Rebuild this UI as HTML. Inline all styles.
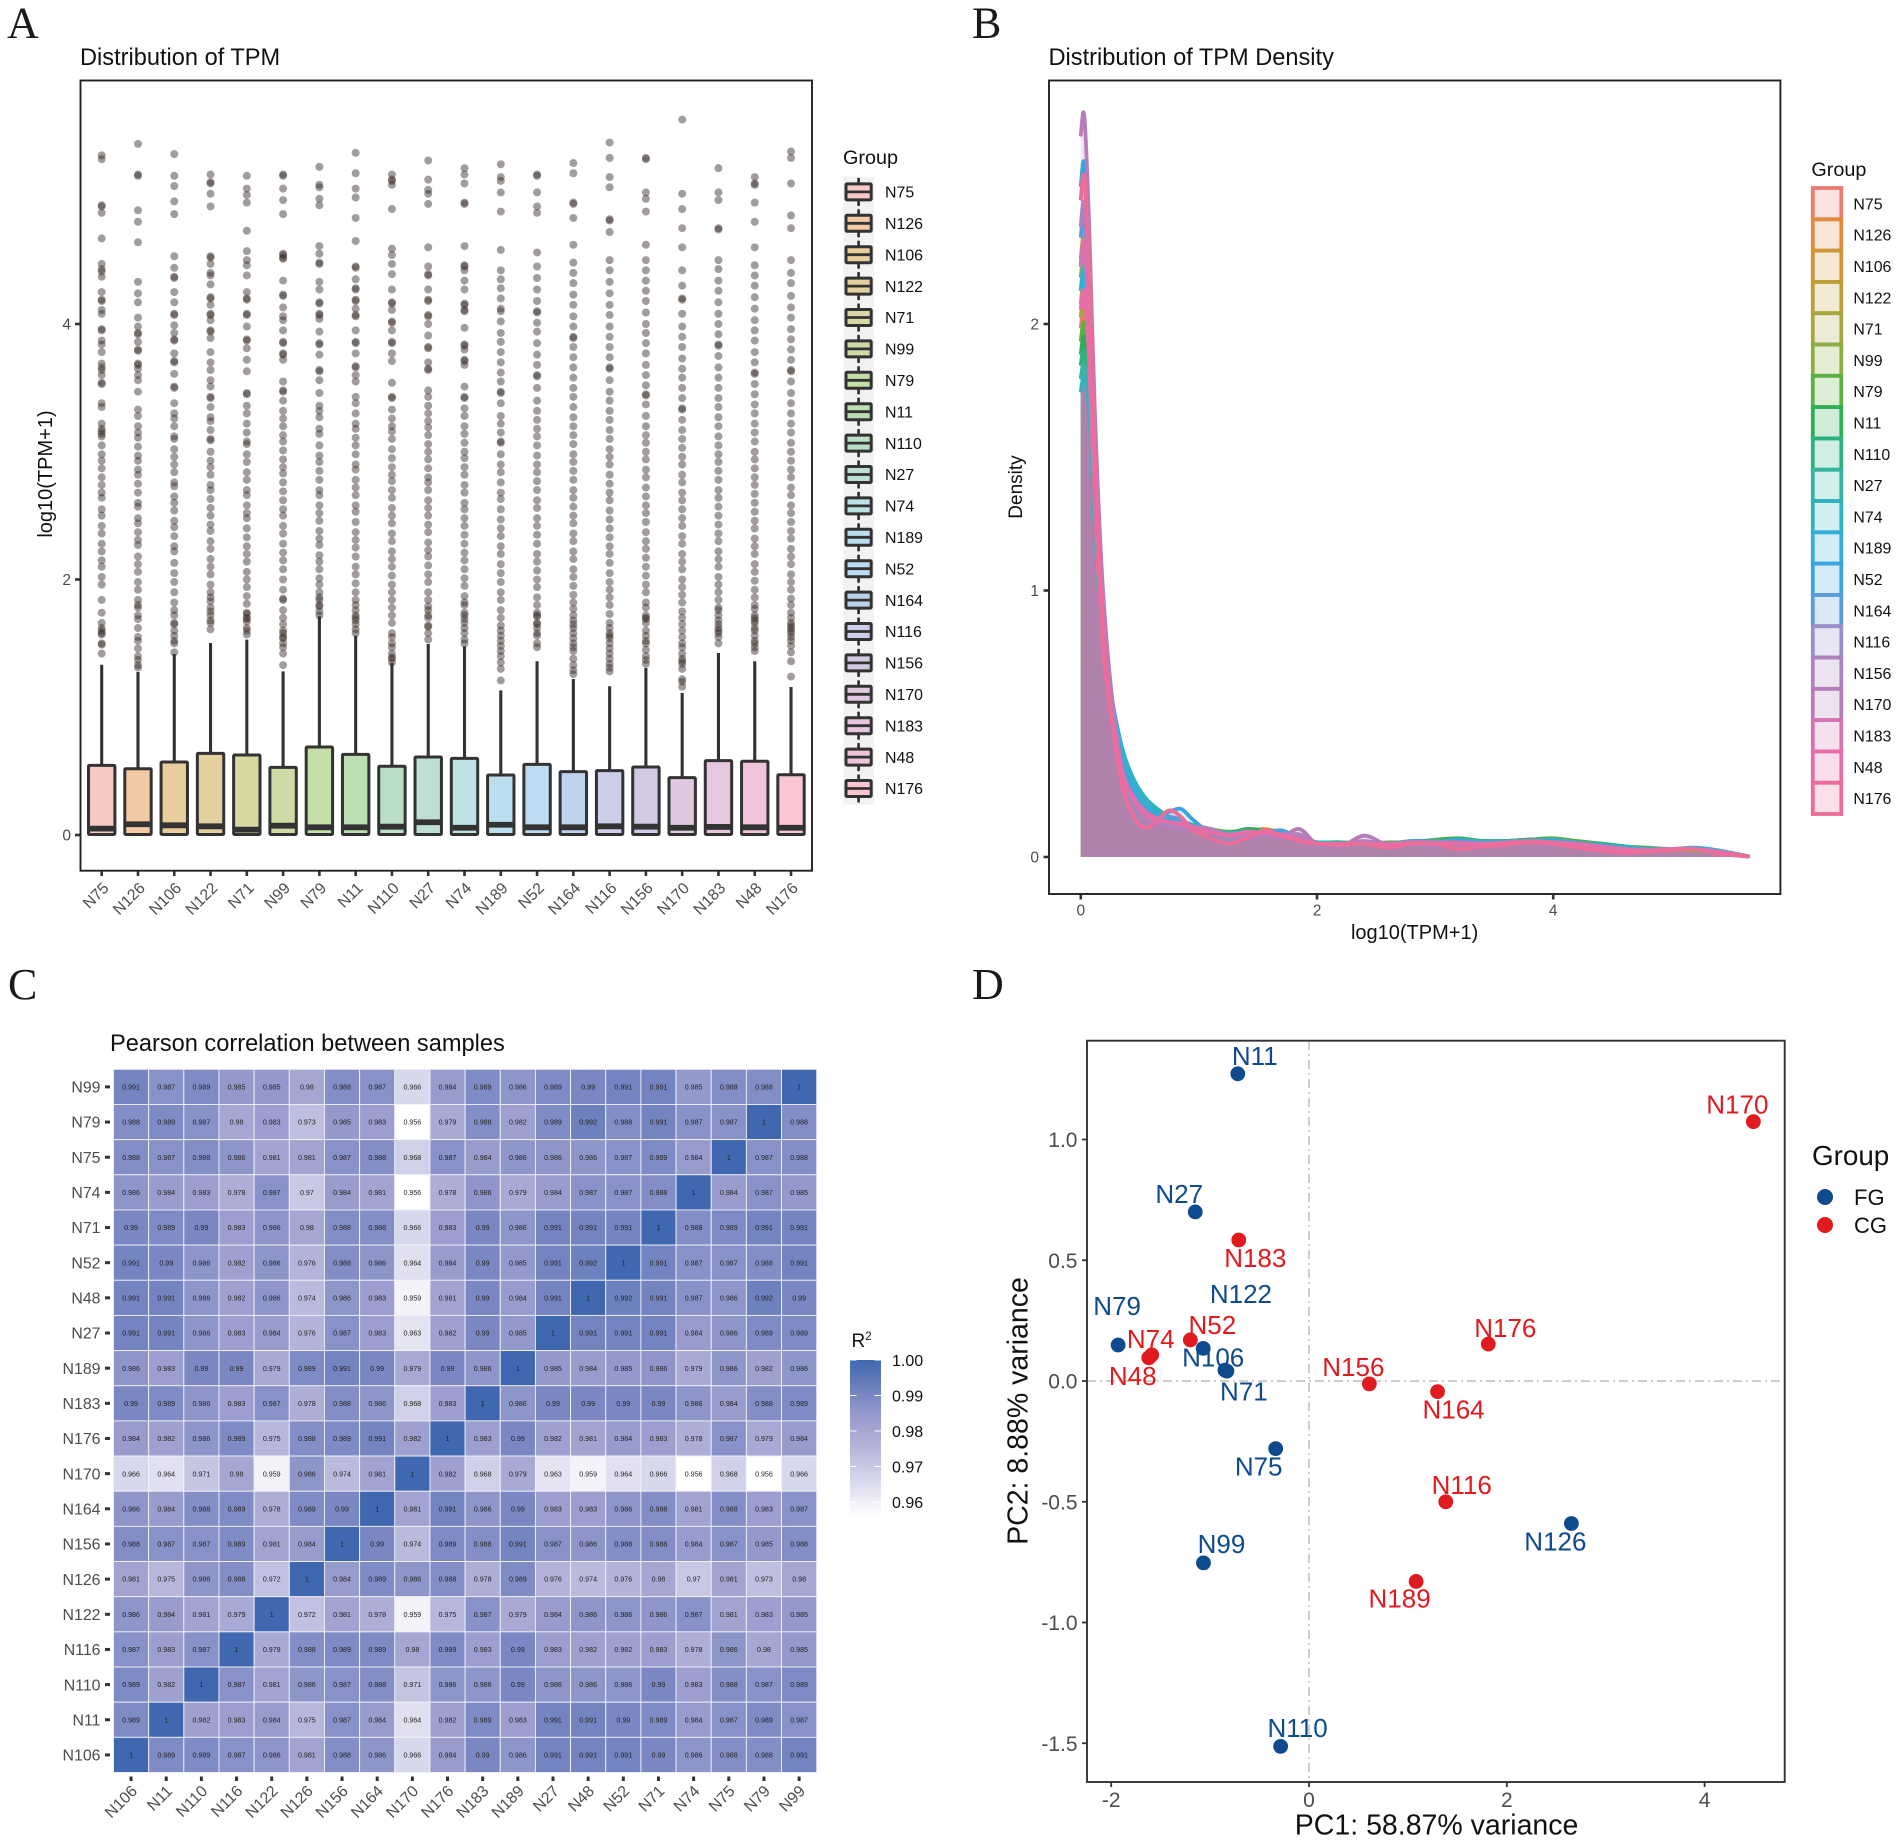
<!DOCTYPE html>
<html lang="en">
<head>
<meta charset="utf-8">
<title>Transcriptome QC figure</title>
<style>
html,body{margin:0;padding:0;background:#fff;}
svg{display:block;font-family:"Liberation Sans",Arial,sans-serif;}
.letter{font-family:"Liberation Serif",serif;font-size:44px;fill:#1a1a1a;}
.title{font-size:23.6px;fill:#111;}
</style>
</head>
<body>
<svg id="figure" width="1902" height="1843" viewBox="0 0 1902 1843">
<rect x="0" y="0" width="1902" height="1843" fill="#ffffff"/>
<text class="letter" x="7" y="37.5">A</text>
<text class="letter" x="972" y="37.5">B</text>
<text class="letter" x="8" y="999">C</text>
<text class="letter" x="972" y="999">D</text>
<text class="title" x="80" y="65">Distribution of TPM</text>
<text class="title" x="1048.5" y="65">Distribution of TPM Density</text>
<text class="title" x="110" y="1051">Pearson correlation between samples</text>
<text x="46" y="474" transform="rotate(-90 46 474)" dy="6" text-anchor="middle" font-size="20" fill="#111">log10(TPM+1)</text>
<text x="1016" y="487" transform="rotate(-90 1016 487)" dy="6" text-anchor="middle" font-size="19" fill="#111">Density</text>
<text x="1414.6" y="939" text-anchor="middle" font-size="20" fill="#111">log10(TPM+1)</text>
<text x="1027.6" y="1411" transform="rotate(-90 1027.6 1411)" text-anchor="middle" font-size="28.5" fill="#111">PC2: 8.88% variance</text>
<text x="1436.6" y="1834.5" text-anchor="middle" font-size="28.5" fill="#111">PC1: 58.87% variance</text>
<text x="843" y="164" font-size="19.8" fill="#111">Group</text>
<text x="1811.4" y="176" font-size="19.8" fill="#111">Group</text>
<text x="1812" y="1165" font-size="27.8" fill="#111">Group</text>
<text x="851.5" y="1347" font-size="19" fill="#111">R<tspan font-size="11.5" dy="-7">2</tspan></text>
<defs><linearGradient id="colorbar-gradient" x1="0" y1="1" x2="0" y2="0"></linearGradient></defs>
</svg>
<script>
/* ---------- shared sample names ---------- */
const samples = ['N75','N126','N106','N122','N71','N99','N79','N11','N110','N27','N74','N189','N52','N164','N116','N156','N170','N183','N48','N176'];

/* ---------- panel A: boxplot values ---------- */
const boxQ1 = [0.004,0.004,0.004,0.004,0.004,0.004,0.004,0.004,0.004,0.004,0.004,0.004,0.004,0.004,0.004,0.004,0.004,0.004,0.004,0.004];
const boxMedian = [0.05,0.084,0.076,0.068,0.042,0.073,0.06,0.06,0.065,0.1,0.057,0.08,0.06,0.06,0.068,0.065,0.057,0.063,0.06,0.057];
const boxQ3 = [0.545,0.519,0.571,0.639,0.626,0.529,0.689,0.631,0.538,0.611,0.6,0.47,0.553,0.496,0.504,0.532,0.449,0.582,0.577,0.472];
const boxWhisker = [1.333,1.276,1.417,1.503,1.529,1.281,1.712,1.56,1.346,1.495,1.477,1.132,1.36,1.221,1.164,1.307,1.112,1.425,1.36,1.159];
const boxTicks = [0,2,4];
const outN75 = [5.32,5.29,4.93,4.92,4.87,4.67,4.47,4.43,4.41,4.37,4.25,4.19,4.18,4.11,4.08,3.96,3.95,3.87,3.84,3.78,3.69,3.66,3.64,3.6,3.54,3.53,3.38,3.35,3.22,3.18,3.16,3.14,3.12,3.05,2.98,2.93,2.87,2.8,2.74,2.68,2.64,2.55,2.5,2.42,2.36,2.28,2.22,2.15,2.1,2.02,1.96,1.84,1.74,1.66,1.62,1.6,1.58,1.57,1.5,1.49,1.42];
const outN126 = [5.41,5.17,5.16,4.89,4.8,4.64,4.33,4.24,4.17,4.05,3.98,3.93,3.92,3.86,3.8,3.79,3.69,3.68,3.65,3.6,3.56,3.47,3.33,3.28,3.2,3.15,3.11,3.04,2.97,2.93,2.86,2.82,2.75,2.68,2.6,2.57,2.48,2.44,2.37,2.31,2.27,2.18,2.12,2.06,1.98,1.92,1.84,1.8,1.78,1.72,1.69,1.62,1.55,1.52,1.46,1.4,1.37,1.33,1.31];
const outN106 = [5.33,5.16,5.08,4.96,4.86,4.53,4.44,4.37,4.36,4.25,4.17,4.08,4.07,3.99,3.93,3.88,3.87,3.77,3.71,3.7,3.61,3.51,3.5,3.38,3.3,3.26,3.2,3.12,3.1,3.02,2.96,2.9,2.84,2.76,2.73,2.65,2.6,2.54,2.46,2.41,2.34,2.26,2.22,2.13,2.05,1.98,1.9,1.82,1.76,1.72,1.66,1.65,1.6,1.56,1.52,1.5,1.43];
const outN122 = [5.17,5.11,5.1,5.02,4.92,4.53,4.52,4.47,4.4,4.38,4.31,4.21,4.2,4.15,4.08,4.07,4.03,3.95,3.94,3.89,3.78,3.7,3.64,3.56,3.51,3.43,3.42,3.35,3.27,3.24,3.17,3.1,3.09,3,2.93,2.88,2.82,2.74,2.7,2.63,2.56,2.5,2.43,2.38,2.3,2.24,2.16,2.1,2.04,1.96,1.9,1.86,1.83,1.78,1.75,1.72,1.68,1.66,1.61];
const outN71 = [5.16,5.06,5.01,4.95,4.73,4.57,4.5,4.46,4.38,4.25,4.2,4.19,4.08,4.07,3.98,3.88,3.87,3.81,3.72,3.63,3.46,3.45,3.36,3.3,3.22,3.15,3.08,3.06,2.98,2.92,2.84,2.78,2.7,2.66,2.58,2.52,2.48,2.4,2.33,2.26,2.2,2.14,2.06,2,1.94,1.87,1.81,1.74,1.73,1.7,1.69,1.67,1.62,1.6,1.57];
const outN99 = [5.17,5.16,5.06,4.97,4.86,4.55,4.54,4.52,4.51,4.34,4.23,4.22,4.13,4.06,4.03,3.95,3.86,3.85,3.77,3.76,3.72,3.55,3.48,3.47,3.4,3.32,3.26,3.2,3.13,3.08,3.01,2.94,2.88,2.83,2.76,2.69,2.62,2.55,2.5,2.42,2.36,2.28,2.21,2.15,2.08,2,1.92,1.85,1.84,1.76,1.7,1.65,1.6,1.58,1.55,1.54,1.5,1.47,1.42,1.33];
const outN79 = [5.23,5.09,5.07,4.98,4.93,4.61,4.55,4.48,4.47,4.33,4.27,4.17,4.16,4.08,4.07,4.04,3.94,3.85,3.84,3.76,3.64,3.63,3.56,3.46,3.36,3.32,3.27,3.18,3.14,3.05,2.97,2.92,2.85,2.78,2.7,2.66,2.58,2.52,2.46,2.38,2.32,2.27,2.19,2.14,2.08,2.01,1.96,1.9,1.86,1.84,1.8,1.79,1.75,1.72];
const outN11 = [5.34,5.18,5.06,4.99,4.83,4.65,4.45,4.44,4.35,4.28,4.27,4.19,4.18,4.12,4.07,4.06,3.95,3.86,3.85,3.77,3.67,3.66,3.6,3.55,3.43,3.38,3.3,3.22,3.18,3.11,3.05,2.98,2.9,2.86,2.78,2.72,2.66,2.58,2.53,2.45,2.37,2.31,2.25,2.18,2.1,2.04,1.97,1.9,1.84,1.8,1.76,1.72,1.7,1.68,1.65,1.61,1.58];
const outN110 = [5.17,5.13,5.12,5.09,4.9,4.59,4.54,4.47,4.39,4.27,4.17,4.16,4.11,4.02,4.01,3.95,3.86,3.85,3.77,3.71,3.54,3.43,3.42,3.33,3.26,3.2,3.16,3.1,3.02,2.95,2.88,2.82,2.77,2.7,2.64,2.56,2.5,2.44,2.36,2.3,2.22,2.16,2.1,2.03,1.96,1.9,1.84,1.78,1.72,1.66,1.58,1.55,1.5,1.47,1.42,1.39,1.38,1.35];
const outN27 = [5.28,5.13,5.05,5.02,4.94,4.6,4.45,4.39,4.38,4.27,4.19,4.18,4.07,4.06,4,3.91,3.82,3.81,3.7,3.65,3.64,3.48,3.43,3.36,3.3,3.24,3.19,3.13,3.06,3,2.94,2.87,2.8,2.76,2.7,2.62,2.56,2.5,2.43,2.37,2.29,2.23,2.18,2.11,2.04,1.98,1.9,1.84,1.79,1.76,1.72,1.7,1.64,1.63,1.58,1.53];
const outN74 = [5.22,5.17,5.1,4.95,4.94,4.61,4.46,4.45,4.42,4.34,4.27,4.16,4.15,4.11,4.1,3.97,3.84,3.83,3.8,3.72,3.71,3.68,3.51,3.43,3.42,3.34,3.28,3.2,3.14,3.07,3,2.95,2.88,2.82,2.74,2.68,2.6,2.55,2.48,2.42,2.35,2.28,2.21,2.15,2.08,2.01,1.95,1.87,1.82,1.8,1.74,1.72,1.69,1.66,1.62,1.58,1.53,1.5];
const outN189 = [5.25,5.15,5.12,5.03,4.88,4.58,4.42,4.35,4.28,4.2,4.12,4.1,4.02,3.93,3.86,3.78,3.7,3.62,3.55,3.47,3.46,3.38,3.28,3.22,3.15,3.08,3.07,2.98,2.9,2.84,2.76,2.68,2.63,2.55,2.47,2.4,2.34,2.26,2.2,2.12,2.05,1.98,1.9,1.84,1.76,1.7,1.64,1.6,1.56,1.52,1.48,1.44,1.4,1.35,1.3,1.21];
const outN52 = [5.17,5.16,5.03,4.92,4.87,4.56,4.45,4.36,4.27,4.18,4.1,4.09,4.01,3.94,3.85,3.76,3.68,3.6,3.59,3.5,3.4,3.32,3.25,3.18,3.12,3.05,2.97,2.9,2.84,2.77,2.7,2.62,2.56,2.48,2.42,2.35,2.28,2.2,2.14,2.07,2,1.94,1.86,1.8,1.74,1.72,1.71,1.66,1.65,1.62,1.58,1.56,1.5,1.47];
const outN164 = [5.26,5.18,4.95,4.94,4.83,4.62,4.48,4.4,4.32,4.23,4.15,4.06,3.98,3.9,3.89,3.82,3.74,3.66,3.58,3.5,3.43,3.35,3.27,3.2,3.13,3.06,2.98,2.92,2.85,2.78,2.7,2.64,2.57,2.5,2.44,2.36,2.3,2.22,2.16,2.08,2.02,1.95,1.88,1.82,1.77,1.72,1.68,1.65,1.62,1.58,1.54,1.5,1.47,1.44,1.38,1.33,1.29,1.26];
const outN116 = [5.42,5.3,5.15,5.07,4.82,4.81,4.72,4.5,4.42,4.33,4.24,4.15,4.07,3.98,3.9,3.82,3.74,3.66,3.65,3.56,3.47,3.4,3.32,3.25,3.17,3.1,3.02,2.96,2.9,2.82,2.75,2.68,2.62,2.54,2.47,2.4,2.33,2.26,2.2,2.13,2.05,1.98,1.92,1.86,1.8,1.73,1.66,1.62,1.58,1.56,1.54,1.5,1.46,1.42,1.38,1.34,1.31,1.28];
const outN156 = [5.3,5.29,5.03,4.98,4.88,4.62,4.5,4.42,4.34,4.26,4.18,4.09,4,3.93,3.85,3.77,3.68,3.6,3.52,3.45,3.44,3.37,3.28,3.2,3.13,3.07,3,2.94,2.86,2.8,2.72,2.65,2.58,2.52,2.45,2.37,2.3,2.24,2.17,2.1,2.03,1.96,1.9,1.82,1.78,1.72,1.7,1.69,1.66,1.6,1.56,1.52,1.5,1.45,1.4,1.37,1.34];
const outN170 = [5.6,5.02,4.9,4.75,4.6,4.42,4.3,4.2,4.19,4.08,3.98,3.9,3.82,3.73,3.65,3.58,3.5,3.42,3.34,3.33,3.25,3.17,3.1,3.03,2.96,2.9,2.82,2.76,2.68,2.62,2.55,2.48,2.42,2.34,2.28,2.2,2.14,2.08,2,1.94,1.88,1.82,1.75,1.7,1.65,1.6,1.55,1.5,1.47,1.42,1.38,1.36,1.34,1.3,1.22,1.2,1.16];
const outN183 = [5.22,5.03,4.97,4.75,4.74,4.5,4.43,4.34,4.26,4.17,4.08,4,3.92,3.84,3.83,3.75,3.66,3.58,3.5,3.42,3.35,3.27,3.2,3.12,3.05,2.98,2.92,2.85,2.78,2.7,2.64,2.57,2.5,2.43,2.36,2.3,2.22,2.16,2.1,2.02,1.96,1.9,1.84,1.78,1.76,1.72,1.68,1.65,1.62,1.6,1.58,1.55,1.5];
const outN48 = [5.15,5.1,5.09,4.95,4.8,4.6,4.46,4.38,4.3,4.21,4.12,4.03,3.95,3.87,3.78,3.7,3.62,3.61,3.53,3.45,3.37,3.3,3.22,3.15,3.08,3,2.94,2.87,2.8,2.74,2.67,2.6,2.53,2.46,2.4,2.32,2.26,2.2,2.12,2.06,1.99,1.92,1.86,1.8,1.77,1.72,1.7,1.68,1.66,1.62,1.6,1.56,1.52,1.5,1.47,1.44];
const outN176 = [5.35,5.3,5.1,4.85,4.75,4.5,4.4,4.32,4.22,4.13,4.05,3.96,3.88,3.8,3.72,3.64,3.63,3.55,3.46,3.38,3.3,3.22,3.15,3.07,3,2.93,2.86,2.8,2.72,2.66,2.58,2.52,2.45,2.38,2.32,2.24,2.18,2.12,2.04,1.98,1.92,1.85,1.8,1.74,1.7,1.66,1.64,1.62,1.6,1.58,1.55,1.52,1.48,1.43,1.36,1.24];
const outlierSeries = [outN75,outN126,outN106,outN122,outN71,outN99,outN79,outN11,outN110,outN27,outN74,outN189,outN52,outN164,outN116,outN156,outN170,outN183,outN48,outN176];
const boxFillColors = ['#f6c9c4','#f3caa4','#eacd9c','#e2d19f','#d9d7a2','#cfdba6','#c4dfa8','#bbdfb2','#badfc5','#bde0d6','#bde2e5','#bbdeef','#bcdcf1','#bdd2ee','#cdcfea','#d3c9e3','#dfc9e0','#e7c7df','#f0c5dc','#f9c6d2'];

/* ---------- panel B: density values ---------- */
const densityGrid = [0,.03,.07,.12,.18,.25,.35,.45,.55,.65,.75,.85,.95,1.1,1.25,1.4,1.55,1.7,1.85,2,2.2,2.4,2.6,2.8,3,3.2,3.4,3.6,3.8,4,4.2,4.4,4.6,4.8,5,5.2,5.4,5.65];
const densN75 = [1.99,2.05,1.8,1.27,.82,.55,.33,.24,.19,.16,.15,.13,.12,.1,.085,.09,.095,.08,.07,.055,.05,.055,.05,.055,.055,.06,.055,.06,.06,.06,.055,.045,.035,.025,.025,.03,.02,.003];
const densN126 = [2.25,2.32,2.02,1.42,.9,.58,.32,.22,.17,.14,.13,.12,.11,.09,.08,.09,.105,.09,.065,.05,.05,.05,.045,.055,.06,.055,.05,.055,.06,.06,.05,.04,.03,.025,.03,.03,.015,.002];
const densN106 = [2.13,2.2,1.93,1.36,.88,.6,.35,.25,.18,.15,.14,.13,.115,.1,.09,.095,.1,.09,.07,.05,.05,.055,.05,.055,.06,.065,.06,.06,.065,.065,.06,.045,.035,.03,.03,.03,.02,.003];
const densN122 = [2.08,2.15,1.88,1.33,.86,.58,.34,.24,.19,.16,.145,.13,.12,.095,.085,.1,.09,.085,.07,.055,.055,.05,.05,.06,.06,.065,.055,.06,.065,.07,.06,.05,.035,.03,.025,.03,.02,.003];
const densN71 = [2.03,2.1,1.85,1.3,.84,.57,.35,.25,.19,.155,.14,.125,.115,.1,.09,.085,.09,.085,.07,.055,.05,.05,.05,.05,.06,.06,.06,.055,.06,.065,.055,.045,.04,.03,.03,.025,.02,.003];
const densN99 = [2.18,2.25,1.96,1.39,.88,.57,.33,.23,.17,.145,.14,.13,.115,.1,.085,.09,.09,.08,.07,.05,.05,.05,.045,.055,.055,.06,.055,.06,.06,.06,.05,.045,.035,.025,.03,.03,.015,.002];
const densN79 = [1.94,2,1.78,1.27,.84,.58,.36,.26,.2,.17,.15,.135,.12,.105,.095,.1,.095,.09,.07,.055,.055,.05,.055,.055,.065,.07,.06,.06,.065,.07,.06,.05,.04,.035,.03,.03,.02,.003];
const densN11 = [1.89,1.95,1.75,1.25,.84,.6,.38,.27,.21,.17,.15,.135,.12,.105,.09,.105,.1,.085,.065,.055,.05,.055,.05,.055,.06,.07,.06,.06,.065,.065,.055,.05,.04,.03,.03,.03,.02,.003];
const densN110 = [1.85,1.9,1.72,1.24,.85,.61,.39,.28,.21,.17,.15,.13,.12,.1,.09,.1,.09,.085,.07,.055,.055,.05,.05,.06,.06,.065,.06,.06,.065,.06,.055,.05,.04,.03,.03,.03,.02,.003];
const densN27 = [1.8,1.85,1.7,1.23,.85,.62,.4,.28,.21,.17,.15,.135,.12,.1,.09,.09,.095,.085,.07,.055,.05,.055,.05,.055,.06,.06,.055,.06,.06,.065,.055,.045,.04,.03,.03,.03,.02,.003];
const densN74 = [1.75,1.8,1.67,1.22,.86,.63,.41,.29,.22,.18,.15,.13,.115,.1,.09,.095,.09,.08,.065,.055,.05,.05,.05,.055,.055,.065,.055,.055,.06,.065,.055,.045,.035,.03,.03,.03,.02,.003];
const densN189 = [2.13,2.2,1.93,1.37,.9,.62,.39,.27,.2,.16,.145,.13,.11,.1,.085,.08,.085,.08,.06,.05,.05,.055,.05,.05,.05,.055,.05,.055,.055,.055,.05,.045,.035,.03,.03,.035,.025,.003];
const densN52 = [2.52,2.6,2.24,1.56,.98,.64,.36,.24,.18,.15,.17,.18,.14,.09,.08,.085,.09,.1,.07,.05,.05,.05,.045,.06,.055,.06,.055,.055,.06,.06,.05,.04,.03,.025,.03,.03,.02,.002];
const densN164 = [2.33,2.4,2.08,1.47,.93,.6,.34,.23,.17,.145,.15,.14,.115,.1,.08,.08,.095,.095,.065,.05,.05,.05,.045,.055,.055,.055,.05,.055,.06,.055,.05,.04,.03,.03,.03,.03,.02,.002];
const densN116 = [2.22,2.29,1.99,1.4,.88,.56,.31,.22,.17,.14,.12,.12,.115,.105,.075,.075,.085,.08,.065,.05,.045,.05,.04,.05,.05,.05,.05,.05,.055,.05,.045,.04,.03,.025,.03,.03,.02,.002];
const densN156 = [2.37,2.45,2.12,1.48,.93,.58,.32,.21,.16,.135,.13,.12,.115,.1,.085,.08,.085,.08,.085,.05,.045,.06,.045,.05,.055,.05,.05,.05,.055,.05,.045,.035,.03,.025,.03,.03,.02,.002];
const densN170 = [2.71,2.78,2.38,1.66,1.06,.66,.33,.2,.14,.12,.11,.105,.11,.105,.08,.07,.08,.075,.105,.05,.04,.08,.045,.05,.045,.05,.045,.045,.055,.05,.04,.035,.025,.025,.03,.03,.02,.002];
const densN183 = [2.23,2.3,2,1.41,.88,.55,.31,.22,.17,.145,.13,.12,.11,.095,.085,.09,.09,.085,.07,.05,.05,.05,.05,.055,.055,.055,.05,.055,.06,.055,.05,.04,.03,.025,.03,.03,.02,.002];
const densN48 = [2.06,2.12,1.86,1.3,.84,.55,.32,.22,.16,.14,.13,.125,.11,.09,.08,.095,.09,.08,.06,.05,.05,.05,.045,.055,.05,.05,.05,.05,.055,.055,.05,.04,.03,.025,.03,.03,.02,.002];
const densN176 = [2.47,2.55,2.19,1.5,.92,.56,.27,.15,.11,.14,.175,.15,.1,.07,.05,.07,.1,.08,.06,.05,.045,.05,.035,.05,.05,.03,.04,.045,.055,.05,.035,.025,.015,.02,.025,.03,.012,.002];
const densitySeries = [densN75,densN126,densN106,densN122,densN71,densN99,densN79,densN11,densN110,densN27,densN74,densN189,densN52,densN164,densN116,densN156,densN170,densN183,densN48,densN176];
const densityColors = ['#ea7d72','#e08a3e','#cf9638','#bd9f3a','#a8a63e','#8bad42','#5fb044','#2fae57','#2bb27f','#35b5a0','#2fb4bd','#35aed6','#3aa5dc','#5a9bd8','#9a8fc8','#ae82be','#b77dba','#d274b0','#e56ea8','#ec6c9a'];
const densityXTicks = [0,2,4];
const densityYTicks = [0,1,2];

/* ---------- panel C: heatmap values ---------- */
const heatColumns = ['N106','N11','N110','N116','N122','N126','N156','N164','N170','N176','N183','N189','N27','N48','N52','N71','N74','N75','N79','N99'];
const heatRowLabels = ['N99','N79','N75','N74','N71','N52','N48','N27','N189','N183','N176','N170','N164','N156','N126','N122','N116','N110','N11','N106'];
const rowN99 = [.991,.987,.989,.985,.985,.98,.988,.987,.966,.984,.989,.986,.989,.99,.991,.991,.985,.988,.988,1];
const rowN79 = [.988,.989,.987,.98,.983,.973,.985,.983,.956,.979,.988,.982,.989,.992,.988,.991,.987,.987,1,.988];
const rowN75 = [.988,.987,.988,.986,.981,.981,.987,.988,.968,.987,.984,.986,.986,.986,.987,.989,.984,1,.987,.988];
const rowN74 = [.986,.984,.983,.978,.987,.97,.984,.981,.956,.978,.986,.979,.984,.987,.987,.988,1,.984,.987,.985];
const rowN71 = [.99,.989,.99,.983,.986,.98,.988,.988,.966,.983,.99,.986,.991,.991,.991,1,.988,.989,.991,.991];
const rowN52 = [.991,.99,.986,.982,.986,.976,.988,.986,.964,.984,.99,.985,.991,.992,1,.991,.987,.987,.988,.991];
const rowN48 = [.991,.991,.986,.982,.986,.974,.986,.983,.959,.981,.99,.984,.991,1,.992,.991,.987,.986,.992,.99];
const rowN27 = [.991,.991,.986,.983,.984,.976,.987,.983,.963,.982,.99,.985,1,.991,.991,.991,.984,.986,.989,.989];
const rowN189 = [.986,.983,.99,.99,.979,.989,.991,.99,.979,.99,.986,1,.985,.984,.985,.986,.979,.986,.982,.986];
const rowN183 = [.99,.989,.986,.983,.987,.978,.988,.986,.968,.983,1,.986,.99,.99,.99,.99,.986,.984,.988,.989];
const rowN176 = [.984,.982,.986,.989,.975,.988,.989,.991,.982,1,.983,.99,.982,.981,.984,.983,.978,.987,.979,.984];
const rowN170 = [.966,.964,.971,.98,.959,.986,.974,.981,1,.982,.968,.979,.963,.959,.964,.966,.956,.968,.956,.966];
const rowN164 = [.986,.984,.988,.989,.978,.989,.99,1,.981,.991,.986,.99,.983,.983,.986,.988,.981,.988,.983,.987];
const rowN156 = [.988,.987,.987,.989,.981,.984,1,.99,.974,.989,.988,.991,.987,.986,.988,.988,.984,.987,.985,.988];
const rowN126 = [.981,.975,.986,.988,.972,1,.984,.989,.986,.988,.978,.989,.976,.974,.976,.98,.97,.981,.973,.98];
const rowN122 = [.986,.984,.981,.979,1,.972,.981,.978,.959,.975,.987,.979,.984,.986,.986,.986,.987,.981,.983,.985];
const rowN116 = [.987,.983,.987,1,.979,.988,.989,.989,.98,.989,.983,.99,.983,.982,.982,.983,.978,.986,.98,.985];
const rowN110 = [.989,.982,1,.987,.981,.986,.987,.988,.971,.986,.986,.99,.986,.986,.986,.99,.983,.988,.987,.989];
const rowN11 = [.989,1,.982,.983,.984,.975,.987,.984,.964,.982,.989,.983,.991,.991,.99,.989,.984,.987,.989,.987];
const rowN106 = [1,.989,.989,.987,.986,.981,.988,.986,.966,.984,.99,.986,.991,.991,.991,.99,.986,.988,.988,.991];
const heatRows = [rowN99,rowN79,rowN75,rowN74,rowN71,rowN52,rowN48,rowN27,rowN189,rowN183,rowN176,rowN170,rowN164,rowN156,rowN126,rowN122,rowN116,rowN110,rowN11,rowN106];
const colorbarTicks = [1,0.99,0.98,0.97,0.96];
const colorbarTickLabels = ['1.00','0.99','0.98','0.97','0.96'];

/* ---------- panel D: PCA values ---------- */
const pcaNames = ['N11','N27','N122','N79','N106','N71','N75','N99','N126','N110','N183','N52','N74','N48','N156','N164','N176','N170','N116','N189'];
const pcaGroups = ['FG','FG','FG','FG','FG','FG','FG','FG','FG','FG','CG','CG','CG','CG','CG','CG','CG','CG','CG','CG'];
const pc1Values = [-.72,-1.15,-.85,-1.93,-1.07,-.83,-.337,-1.067,2.653,-.287,-.71,-1.2,-1.59,-1.62,.61,1.3,1.813,4.493,1.383,1.083];
const pc2Values = [1.272,.70,.045,.149,.135,.041,-.28,-.753,-.59,-1.513,.584,.17,.108,.096,-.012,-.044,.153,1.074,-.50,-.83];
const pc1Ticks = [-2,0,2,4];
const pc2Ticks = [-1.5,-1,-.5,0,.5,1];
const pc2TickLabels = ['-1.5','-1.0','-0.5','0.0','0.5','1.0'];
const groupNames = ['FG','CG'];

/* ---------- drawing ---------- */
const svg = document.getElementById('figure');
function mk(tag, attrs, parent) {
  const el = document.createElementNS(svg.namespaceURI, tag);
  for (const k in attrs) el.setAttribute(k, attrs[k]);
  (parent || svg).appendChild(el);
  return el;
}
const AXIS_INK = '#333333';
const TICK_TEXT = '#4d4d4d';

/* panel A */
const xA = i => 101.7 + 36.28 * i;
const yA = v => 835 - 127.75 * v;
const gA = mk('g', {});


samples.forEach((name, i) => {
  const cx = xA(i);
  outlierSeries[i].forEach(v => {
    const d = mk('circle', {cx: cx, cy: yA(v), r: 4, fill: '#3a2f2b', 'fill-opacity': 0.47}, gA);
    
    
  });
  const w = mk('line', {x1: cx, x2: cx, y1: yA(boxWhisker[i]), y2: yA(boxQ3[i]), stroke: AXIS_INK, 'stroke-width': 3.1}, gA);
  
  
  const b = mk('rect', {x: cx - 13.2, y: yA(boxQ3[i]), width: 26.4, height: yA(boxQ1[i]) - yA(boxQ3[i]), rx: 1, fill: boxFillColors[i], stroke: AXIS_INK, 'stroke-width': 3}, gA);
  
  
  const m = mk('line', {x1: cx - 13.2, x2: cx + 13.2, y1: yA(boxMedian[i]), y2: yA(boxMedian[i]), stroke: AXIS_INK, 'stroke-width': 5.8}, gA);
  
  
  const t = mk('line', {x1: cx, x2: cx, y1: 870.7, y2: 876, stroke: AXIS_INK, 'stroke-width': 2.6}, gA);
  
  
  const lbl = mk('text', {x: cx + 8, y: 889, 'text-anchor': 'end', 'font-size': 15.8, fill: TICK_TEXT, transform: 'rotate(-45 ' + (cx + 8) + ' 889)'}, gA);
  lbl.textContent = name;
  
  
});
boxTicks.forEach(v => {
  const t = mk('line', {x1: 75, x2: 80.5, y1: yA(v), y2: yA(v), stroke: AXIS_INK, 'stroke-width': 2.6}, gA);
  
  
  const l = mk('text', {x: 71, y: yA(v) + 5.5, 'text-anchor': 'end', 'font-size': 15.5, fill: TICK_TEXT}, gA);
  l.textContent = v;
  
  
});
const frameA = mk('rect', {x: 80.5, y: 80.5, width: 731.5, height: 790.2, fill: 'none', stroke: '#222', 'stroke-width': 1.9}, gA);


const legBgA = mk('rect', {x: 843.3, y: 176.7, width: 30.7, height: 628, fill: '#f2f2f2'}, gA);


samples.forEach((name, i) => {
  const cy = 191.9 + 31.4 * i;
  const kw = mk('line', {x1: 858.6, x2: 858.6, y1: cy - 14, y2: cy + 14, stroke: AXIS_INK, 'stroke-width': 2.7}, gA);
  
  
  const k = mk('rect', {x: 846, y: cy - 8, width: 25.2, height: 16, rx: 1, fill: boxFillColors[i], stroke: AXIS_INK, 'stroke-width': 3}, gA);
  
  
  const km = mk('line', {x1: 846, x2: 871.2, y1: cy, y2: cy, stroke: AXIS_INK, 'stroke-width': 2.8}, gA);
  
  
  const kl = mk('text', {x: 885, y: cy + 5.7, 'font-size': 15.9, fill: '#111'}, gA);
  kl.textContent = name;
  
  
});

/* panel B */
const xB = v => 1080.8 + 118.1 * v;
const yB = v => 857 - 266.5 * v;
function smoothPath(xs, ys) {
  let d = 'M' + xB(xs[0]).toFixed(2) + ' ' + yB(ys[0]).toFixed(2);
  for (let i = 0; i < xs.length - 1; i++) {
    const p0 = i > 0 ? i - 1 : i, p3 = i + 2 < xs.length ? i + 2 : i + 1;
    const c1x = xB(xs[i]) + (xB(xs[i + 1]) - xB(xs[p0])) / 6;
    const c1y = yB(ys[i]) + (yB(ys[i + 1]) - yB(ys[p0])) / 6;
    const c2x = xB(xs[i + 1]) - (xB(xs[p3]) - xB(xs[i])) / 6;
    const c2y = yB(ys[i + 1]) - (yB(ys[p3]) - yB(ys[i])) / 6;
    d += 'C' + c1x.toFixed(2) + ' ' + c1y.toFixed(2) + ' ' + c2x.toFixed(2) + ' ' + c2y.toFixed(2) + ' ' + xB(xs[i + 1]).toFixed(2) + ' ' + yB(ys[i + 1]).toFixed(2);
  }
  return d;
}
const gB = mk('g', {});


samples.forEach((name, i) => {
  const line = smoothPath(densityGrid, densitySeries[i]);
  const area = mk('path', {d: line + 'L' + xB(densityGrid[densityGrid.length - 1]) + ' ' + yB(0) + 'L' + xB(0) + ' ' + yB(0) + 'Z', fill: densityColors[i], 'fill-opacity': 0.2, stroke: 'none'}, gB);
  
  
});
samples.forEach((name, i) => {
  const c = mk('path', {d: smoothPath(densityGrid, densitySeries[i]), fill: 'none', stroke: densityColors[i], 'stroke-width': 3.8, 'stroke-linejoin': 'round', 'stroke-linecap': 'round'}, gB);
  
  
});
densityXTicks.forEach(v => {
  const t = mk('line', {x1: xB(v), x2: xB(v), y1: 894, y2: 899.5, stroke: AXIS_INK, 'stroke-width': 2.6}, gB);
  
  
  const l = mk('text', {x: xB(v), y: 915.5, 'text-anchor': 'middle', 'font-size': 15.5, fill: TICK_TEXT}, gB);
  l.textContent = v;
  
  
});
densityYTicks.forEach(v => {
  const t = mk('line', {x1: 1043.5, x2: 1049, y1: yB(v), y2: yB(v), stroke: AXIS_INK, 'stroke-width': 2.6}, gB);
  
  
  const l = mk('text', {x: 1039, y: yB(v) + 5.5, 'text-anchor': 'end', 'font-size': 15.5, fill: TICK_TEXT}, gB);
  l.textContent = v;
  
  
});
const frameB = mk('rect', {x: 1049, y: 80.5, width: 731.4, height: 813.5, fill: 'none', stroke: '#222', 'stroke-width': 1.9}, gB);


samples.forEach((name, i) => {
  const top = 188 + 31.3 * i;
  const k = mk('rect', {x: 1812.8, y: top, width: 28.5, height: 31.3, fill: densityColors[i], 'fill-opacity': 0.22, stroke: densityColors[i], 'stroke-width': 3.8}, gB);
  
  
  const kl = mk('text', {x: 1853.4, y: top + 21.4, 'font-size': 15.9, fill: '#111'}, gB);
  kl.textContent = name;
  
  
});

/* panel C */
const scaleStopValues = [0.956,0.97,0.98,0.985,0.99,1];
const scaleStopColors = [[255,255,255],[200,200,228],[166,166,211],[147,153,203],[122,135,195],[63,104,176]];
function heatColor(v) {
  let k = 0;
  while (k < scaleStopValues.length - 2 && v > scaleStopValues[k + 1]) k++;
  const t = Math.max(0, Math.min(1, (v - scaleStopValues[k]) / (scaleStopValues[k + 1] - scaleStopValues[k])));
  const c = scaleStopColors[k].map((a, j) => Math.round(a + (scaleStopColors[k + 1][j] - a) * t));
  return 'rgb(' + c.join(',') + ')';
}
const xC = i => 113.5 + 35.16 * i;
const yC = i => 1069.3 + 35.16 * i;
const gC = mk('g', {});


heatRows.forEach((row, r) => {
  row.forEach((v, c) => {
    const cell = mk('rect', {x: xC(c), y: yC(r), width: 35.16, height: 35.16, fill: heatColor(v), stroke: '#f2f2fa', 'stroke-width': 0.9}, gC);
    
    
    const txt = mk('text', {x: xC(c) + 17.58, y: yC(r) + 20.2, 'text-anchor': 'middle', 'font-size': 7.1, fill: '#222'}, gC);
    txt.textContent = String(v).replace(/^\./, '0.');
    
    
  });
});
heatRowLabels.forEach((name, r) => {
  const cy = yC(r) + 17.58;
  const t = mk('line', {x1: 105, x2: 110, y1: cy, y2: cy, stroke: AXIS_INK, 'stroke-width': 3}, gC);
  
  
  const l = mk('text', {x: 100.5, y: cy + 5.7, 'text-anchor': 'end', 'font-size': 15.9, fill: TICK_TEXT}, gC);
  l.textContent = name;
  
  
});
heatColumns.forEach((name, c) => {
  const cx = xC(c) + 17.58;
  const t = mk('line', {x1: cx, x2: cx, y1: 1776.5, y2: 1781, stroke: AXIS_INK, 'stroke-width': 3}, gC);
  
  
  const l = mk('text', {x: cx + 7, y: 1792, 'text-anchor': 'end', 'font-size': 15.9, fill: TICK_TEXT, transform: 'rotate(-45 ' + (cx + 7) + ' 1792)'}, gC);
  l.textContent = name;
  
  
});
const grad = document.getElementById('colorbar-gradient');
scaleStopValues.forEach((v, k) => {
  const s = mk('stop', {offset: ((v - scaleStopValues[0]) / (1 - scaleStopValues[0])).toFixed(4), 'stop-color': 'rgb(' + scaleStopColors[k].join(',') + ')'}, grad);
  
  
});
const yBar = v => 1431 - (v - 0.98) * 3550;
const bar = mk('rect', {x: 850, y: yBar(1), width: 31, height: yBar(0.956) - yBar(1), fill: 'url(#colorbar-gradient)'}, gC);


colorbarTicks.forEach((v, k) => {
  const t1 = mk('line', {x1: 850, x2: 856.5, y1: yBar(v), y2: yBar(v), stroke: '#fff', 'stroke-width': 1}, gC);
  
  
  const t2 = mk('line', {x1: 874.5, x2: 881, y1: yBar(v), y2: yBar(v), stroke: '#fff', 'stroke-width': 1}, gC);
  
  
  const l = mk('text', {x: 892, y: yBar(v) + 5.8, 'font-size': 16, fill: '#111'}, gC);
  l.textContent = colorbarTickLabels[k];
  
  
});

/* panel D */
const xD = v => 1309 + 98.9 * v;
const yD = v => 1381 - 241.5 * v;
const pcaLabelShift = {N11:[17,-9],N27:[-16,-9],N183:[16.5,27],N79:[-1,-30],N52:[22,-6],N122:[16,-67],N106:[10,18],N71:[17,29.5],N74:[-1,-7],N48:[-16,27],N156:[-16,-8],N164:[16,27],N170:[-16,-8.2],N176:[17,-7.2],N75:[-17,26.8],N116:[16,-8],N126:[-16,26.8],N99:[18,-9.6],N189:[-16.5,26.3],N110:[17,-9.6]};
const groupColor = g => g === 'FG' ? '#0d4a8e' : '#e01a1e';
const gD = mk('g', {});


const zeroV = mk('line', {x1: xD(0), x2: xD(0), y1: 1041, y2: 1782, stroke: '#bdbdbd', 'stroke-width': 1.5, 'stroke-dasharray': '9 4 2 4'}, gD);


const zeroH = mk('line', {x1: 1087, x2: 1785, y1: yD(0), y2: yD(0), stroke: '#bdbdbd', 'stroke-width': 1.5, 'stroke-dasharray': '9 4 2 4'}, gD);


pcaNames.forEach((name, i) => {
  const p = mk('circle', {cx: xD(pc1Values[i]), cy: yD(pc2Values[i]), r: 7.4, fill: groupColor(pcaGroups[i])}, gD);
  
  
});
pcaNames.forEach((name, i) => {
  const sh = pcaLabelShift[name];
  const l = mk('text', {x: xD(pc1Values[i]) + sh[0], y: yD(pc2Values[i]) + sh[1], 'text-anchor': 'middle', 'font-size': 26, fill: groupColor(pcaGroups[i])}, gD);
  l.textContent = name;
  
  
});
pc1Ticks.forEach(v => {
  const t = mk('line', {x1: xD(v), x2: xD(v), y1: 1782, y2: 1787, stroke: AXIS_INK, 'stroke-width': 1.8}, gD);
  
  
  const l = mk('text', {x: xD(v), y: 1807, 'text-anchor': 'middle', 'font-size': 21, fill: TICK_TEXT}, gD);
  l.textContent = v;
  
  
});
pc2Ticks.forEach((v, k) => {
  const t = mk('line', {x1: 1082, x2: 1087, y1: yD(v), y2: yD(v), stroke: AXIS_INK, 'stroke-width': 1.8}, gD);
  
  
  const l = mk('text', {x: 1077.5, y: yD(v) + 7.5, 'text-anchor': 'end', 'font-size': 21, fill: TICK_TEXT}, gD);
  l.textContent = pc2TickLabels[k];
  
  
});
const frameD = mk('rect', {x: 1087, y: 1040.7, width: 697.7, height: 741.3, fill: 'none', stroke: '#333', 'stroke-width': 1.9}, gD);


groupNames.forEach((g, k) => {
  const cy = 1197 + 28 * k;
  const d = mk('circle', {cx: 1825, cy: cy, r: 8, fill: groupColor(g)}, gD);
  
  
  const l = mk('text', {x: 1854, y: cy + 8, 'font-size': 22, fill: '#111'}, gD);
  l.textContent = g;
  
  
});
</script>
</body>
</html>
